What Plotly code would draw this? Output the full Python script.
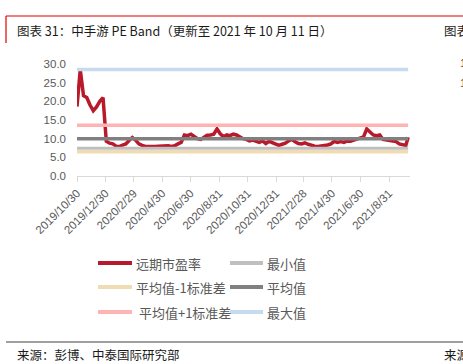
import pandas as pd
import plotly.graph_objects as go

# ---------------- data ----------------
pe_values = [
    18.6, 28.5, 21.5, 21.0, 19.0, 17.5, 18.5, 20.0, 21.0, 9.3,
    8.8, 8.6, 8.0, 7.9, 8.3, 8.6, 9.5, 10.3, 9.6, 8.6,
    8.2, 7.9, 7.9, 7.8, 7.9, 8.0, 8.0, 8.2, 8.1, 7.9,
    8.1, 8.6, 9.0, 11.0, 10.8, 11.2, 10.6, 10.0, 9.8, 10.3,
    10.9, 11.0, 11.2, 12.6, 11.3, 10.5, 11.0, 10.8, 11.2, 11.0,
    10.5, 10.0, 9.8, 9.4, 9.6, 9.3, 9.0, 9.4, 8.7, 9.3,
    8.9, 8.4, 8.2, 8.5, 8.8, 9.4, 9.8, 9.2, 8.7, 8.6,
    8.9, 8.5, 8.2, 8.0, 7.9, 8.0, 8.1, 8.3, 8.6, 9.3,
    9.0, 9.2, 9.0, 9.4, 9.3, 9.6, 9.8, 10.0, 10.5, 12.6,
    11.8, 11.0, 10.8, 11.0, 9.8, 9.6, 9.5, 9.3, 9.2, 8.6,
    8.3, 8.2, 10.4,
]
pe_dates = list(pd.date_range("2019-10-30", periods=len(pe_values) - 1, freq="7D")) + [pd.Timestamp("2021-10-11")]

stat_min = 7.4
stat_mean_minus_sd = 6.5
stat_mean = 10.0
stat_mean_plus_sd = 13.6
stat_max = 28.5

tick_dates = ["2019-10-30", "2019-12-30", "2020-02-29", "2020-04-30", "2020-06-30", "2020-08-31",
              "2020-10-31", "2020-12-31", "2021-02-28", "2021-04-30", "2021-06-30", "2021-08-31"]
tick_labels = ["2019/10/30", "2019/12/30", "2020/2/29", "2020/4/30", "2020/6/30", "2020/8/31",
               "2020/10/31", "2020/12/31", "2021/2/28", "2021/4/30", "2021/6/30", "2021/8/31"]

legend_names = ["远期市盈率", "最小值", "平均值-1标准差", "平均值", " 平均值+1标准差", "最大值"]

# ---------------- style ----------------
C_PE = "#B8192B"
C_MIN = "#BFBFBF"
C_MSD = "#F0DCB4"
C_MEAN = "#808080"
C_PSD = "#FFB4B4"
C_MAX = "#C6DBF0"
TXT = "#595959"

W, H = 463, 364
L, R, T, B = 77, 53, 64, 188
PW, PH = W - L - R, H - T - B


def px(x):
    return (x - L) / PW


def py(y):
    return (H - B - y) / PH


fig = go.Figure()
fig.add_trace(go.Scatter(x=pe_dates, y=pe_values, mode="lines",
                         line=dict(color=C_PE, width=3.5), name=legend_names[0]))
span = [pe_dates[0], pe_dates[-1]]
for val, col, w, nm in [(stat_min, C_MIN, 3, legend_names[1]),
                        (stat_mean_minus_sd, C_MSD, 3.5, legend_names[2]),
                        (stat_mean, C_MEAN, 3.5, legend_names[3]),
                        (stat_mean_plus_sd, C_PSD, 3.5, legend_names[4]),
                        (stat_max, C_MAX, 3.5, legend_names[5])]:
    fig.add_trace(go.Scatter(x=span, y=[val, val], mode="lines",
                             line=dict(color=col, width=w), name=nm))

shapes = []
annotations = []

# manual legend
leg_cols = [C_PE, C_MIN, C_MSD, C_MEAN, C_PSD, C_MAX]
rows_y = [263, 287, 312]
for i, (nm, col) in enumerate(zip(legend_names, leg_cols)):
    r, c = divmod(i, 2)
    x0, x1, tx = (98, 132, 134) if c == 0 else (230, 263, 265)
    yy = rows_y[r]
    shapes.append(dict(type="line", xref="paper", yref="paper", x0=px(x0), x1=px(x1),
                       y0=py(yy), y1=py(yy), line=dict(color=col, width=4)))
    annotations.append(dict(text=nm.replace(" ", "&nbsp;"), xref="paper", yref="paper", x=px(tx), y=py(yy),
                            xanchor="left", yanchor="middle", showarrow=False,
                            font=dict(size=13, color=TXT, family="Noto Sans CJK SC")))

# page frame: title red frame and footer rule
shapes.append(dict(type="line", xref="paper", yref="paper", x0=px(6), x1=px(463), y0=py(16), y1=py(16),
                   line=dict(color="#E00000", width=1.2)))
shapes.append(dict(type="line", xref="paper", yref="paper", x0=px(6), x1=px(6), y0=py(16), y1=py(43),
                   line=dict(color="#E00000", width=1.2)))
shapes.append(dict(type="line", xref="paper", yref="paper", x0=px(6), x1=px(463), y0=py(342), y1=py(342),
                   line=dict(color="#404040", width=1)))

annotations.append(dict(text="图表 31：中手游 PE Band（更新至 2021 年 10 月 11 日）", xref="paper", yref="paper",
                        x=px(15), y=py(30), xanchor="left", yanchor="middle", showarrow=False,
                        font=dict(size=12.5, color="#1a1a1a", family="Noto Sans CJK SC")))
annotations.append(dict(text="图表", xref="paper", yref="paper",
                        x=px(442), y=py(30), xanchor="left", yanchor="middle", showarrow=False,
                        font=dict(size=12.5, color="#1a1a1a", family="Noto Sans CJK SC")))
annotations.append(dict(text="来源：彭博、中泰国际研究部", xref="paper", yref="paper",
                        x=px(15), y=py(354), xanchor="left", yanchor="middle", showarrow=False,
                        font=dict(size=12.5, color="#1a1a1a", family="Noto Sans CJK SC")))
annotations.append(dict(text="来源", xref="paper", yref="paper",
                        x=px(442), y=py(354), xanchor="left", yanchor="middle", showarrow=False,
                        font=dict(size=12.5, color="#1a1a1a", family="Noto Sans CJK SC")))
for yy in [63, 83]:
    annotations.append(dict(text="1", xref="paper", yref="paper",
                            x=px(458), y=py(yy), xanchor="left", yanchor="middle", showarrow=False,
                            font=dict(size=11, color=TXT, family="Liberation Sans")))

fig.update_layout(
    width=W, height=H,
    margin=dict(l=L, r=R, t=T, b=B, autoexpand=False),
    paper_bgcolor="white", plot_bgcolor="white",
    showlegend=False,
    shapes=shapes, annotations=annotations,
    xaxis=dict(type="date", range=["2019-10-30", "2021-10-15"],
               tickvals=tick_dates, ticktext=tick_labels, tickangle=-45,
               showgrid=False, showline=True, linecolor="#D9D9D9", linewidth=1,
               ticks="outside", ticklen=5, tickcolor="#D9D9D9",
               tickfont=dict(size=11.5, color=TXT, family="Liberation Sans"), automargin=False),
    yaxis=dict(range=[0, 30], tickvals=[0, 5, 10, 15, 20, 25, 30], tickformat=".1f",
               showgrid=False, zeroline=False, showline=False, ticks="",
               ticklabelstandoff=10,
               tickfont=dict(size=11.5, color=TXT, family="Liberation Sans"), automargin=False),
)

fig.write_html("out.html", config={"displayModeBar": False},
               post_script="document.body.style.margin='0';document.body.style.overflow='hidden';")
